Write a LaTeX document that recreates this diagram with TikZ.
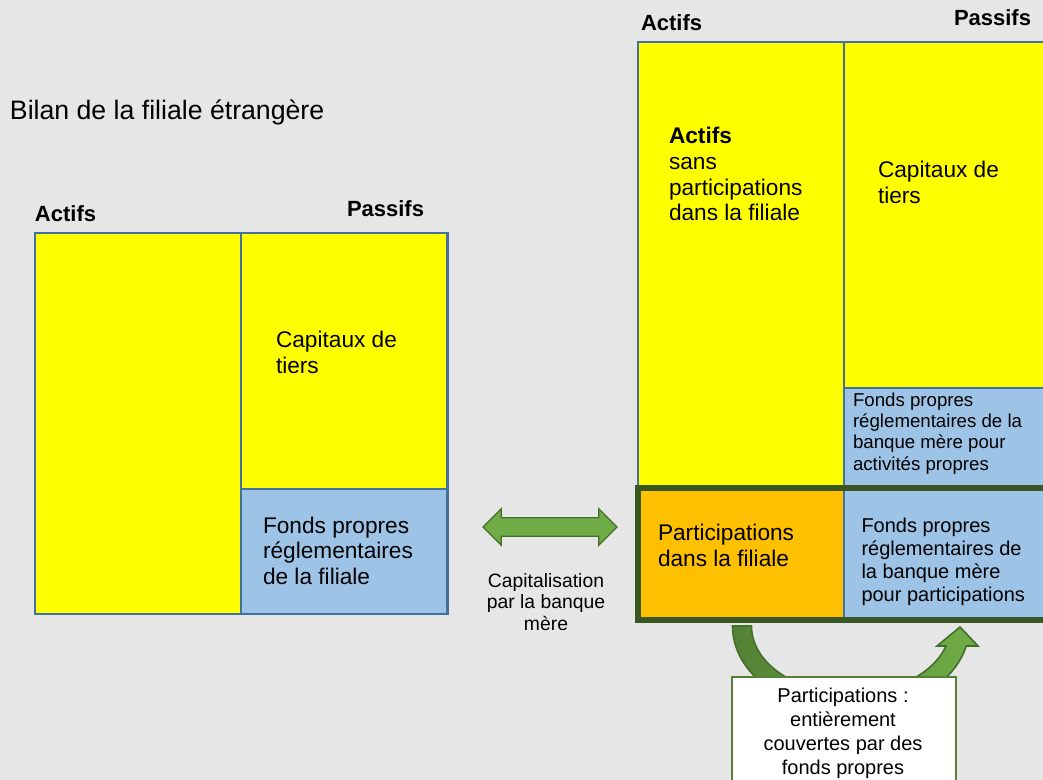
\documentclass[tikz,border=0pt]{standalone}
\usepackage{fontspec}
\setmainfont{Liberation Sans}
\usetikzlibrary{positioning,fit,shapes.arrows}
\definecolor{bgGray}{HTML}{E7E6E6}
\definecolor{cellYellow}{HTML}{FFFF00}
\definecolor{cellBlue}{HTML}{9DC3E6}
\definecolor{cellOrange}{HTML}{FFC000}
\definecolor{cellLine}{HTML}{41719C}
\definecolor{frameGreen}{HTML}{385723}
\definecolor{arrowLight}{HTML}{70AD47}
\definecolor{arrowDark}{HTML}{548235}
\definecolor{arrowLine}{HTML}{446E2B}

\begin{document}
\begin{tikzpicture}[x=0.75pt, y=-0.75pt,
  every node/.style={inner sep=0pt, outer sep=0pt},
  cell/.style n args={3}{draw=cellLine, line width=1.8pt, fill=#1, anchor=north west, minimum width=#2*0.75pt, minimum height=#3*0.75pt},
  head/.style={font=\fontsize{16.5}{19}\selectfont\bfseries, anchor=base west},
  txt/.style={font=\fontsize{17}{19.5}\selectfont, align=left, anchor=base west},
  small/.style={font=\fontsize{14}{15.9}\selectfont, align=left, anchor=base west},
  note/.style={font=\fontsize{15}{17.25}\selectfont, align=left, anchor=base west}]
\path[use as bounding box, fill=bgGray] (0,0) rectangle (1043,780);
\clip (0,0) rectangle (1043,780);

\node (title) [txt, font=\fontsize{20}{24}\selectfont] at (10,119.3) {Bilan de la filiale étrangère};
\node (la) [cell={cellYellow}{206}{381}] at (35,233) {};
\node (lc) [cell={cellYellow}{206.3}{256}] at (la.north east) {};
\node (lf) [cell={cellBlue}{206.3}{125}] at (lc.south west) {};
\node (lact) [head] at (35,221.5) {Actifs};
\node (lpas) [head] at (347,216.7) {Passifs};
\node (lctx) [txt] at (276,374) {Capitaux de\\tiers};
\node (lftx) [txt] at (263,585) {Fonds propres\\réglementaires\\de la filiale};

\node (cap) [double arrow, draw=arrowLine, line width=1pt, fill=arrowLight, minimum height=100.5pt, minimum width=26.25pt, double arrow head extend=6.75pt, inner sep=6.4pt] at (550,527) {};
\node (captx) [font=\fontsize{14.5}{16.1}\selectfont, align=center, anchor=base] at (546,630) {Capitalisation\\par la banque\\mère};

\node (ra) [cell={cellYellow}{206}{446}] at (638,42) {};
\node (rc) [cell={cellYellow}{215}{346}] at (ra.north east) {};
\node (rf) [cell={cellBlue}{215}{100}] at (rc.south west) {};
\node (rp) [cell={cellOrange}{206}{132}] at (ra.south west) {};
\node (rq) [cell={cellBlue}{215}{132}] at (rp.north east) {};
\node (frame) [draw=frameGreen, line width=4.1pt, fit=(rp)(rq)] {};
\node (ract) [head] at (641,30.7) {Actifs};
\node (rpas) [head] at (954,26) {Passifs};
\node (ratx) [txt, font=\fontsize{17}{19.2}\selectfont] at (669,220.8) {\textbf{Actifs}\\sans\\participations\\dans la filiale};
\node (rctx) [txt] at (878,204) {Capitaux de\\tiers};
\node (rftx) [small] at (853,470.1) {Fonds propres\\réglementaires de la\\banque mère pour\\activités propres};
\node (rptx) [txt] at (658,566) {Participations\\dans la filiale};
\node (rqtx) [note] at (861.5,601.7) {Fonds propres\\réglementaires de\\la banque mère\\pour participations};

\draw[left color=arrowDark, right color=arrowLight, draw=arrowLine, line width=1.2pt]
  (732.5,626) arc[start angle=180, end angle=13.4, x radius=118.5, y radius=86.5]
  -- (978,646) -- (960,627) -- (937,646)
  -- (946,646) arc[start angle=17.2, end angle=180, x radius=99.5, y radius=67.5] -- cycle;
\node (cover) [draw=arrowDark, fill=white, line width=0.8pt, minimum width=168pt, minimum height=82pt, anchor=north] at (844,677) {};
\node (covtx) [font=\fontsize{15}{18}\selectfont, align=center, anchor=base] at (843,774.7) {Participations :\\entièrement\\couvertes par des\\fonds propres};
\end{tikzpicture}
\end{document}
